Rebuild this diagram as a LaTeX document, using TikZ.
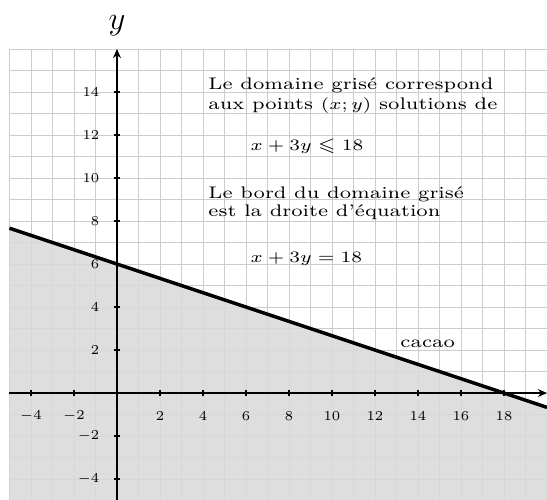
\documentclass[tikz,border=0pt]{standalone}
\usepackage{amsmath,amssymb}
\usetikzlibrary{arrows.meta}

\begin{document}
\begin{tikzpicture}[x=0.333cm,y=0.333cm,
  grille/.style={gray!40, line width=0.4pt},
  axe/.style={thick, -{Stealth[length=4pt,width=3.5pt]}},
  graduation/.style={font=\fontsize{6.4}{7}\selectfont, inner sep=0pt},
  texte/.style={anchor=base west, inner sep=0pt, xscale=1.19,
    font=\fontsize{7.4}{9}\selectfont}]
\useasboundingbox (-5.44,-4.93) rectangle (20,18.28);
% quadrillage
\draw[grille, step=1] (-5,-5) grid (20,16);
% domaine grise
\fill[black!15, opacity=0.88] (-5,-5) -- (-5,23/3) -- (20,-2/3) -- (20,-5) -- cycle;
% axes
\draw[axe] (-5,0) -- (20,0);
\draw[axe] (0,-5) -- (0,16);
\node[font=\Large] (ny) at (0,17.1) {$y$};
% graduations
\foreach \x in {-4,-2,2,4,...,18} {
  \draw[thick] (\x,-0.15) -- (\x,0.15);
  \node[graduation] (gx\x) at (\x,-1.05) {$\x$};
}
\foreach \y in {-4,-2,2,4,...,14} {
  \draw[thick] (-0.15,\y) -- (0.15,\y);
  \node[graduation, anchor=east] (gy\y) at (-0.8,\y) {$\y$};
}
% droite x+3y=18
\draw[line width=1.5pt] (-5,23/3) -- (20,-2/3);
% textes
\node[texte] (l1) at (4.23,14.14) {Le domaine grisé correspond};
\node[texte] (l2) at (4.23,13.21) {aux points $(x;y)$ solutions de};
\node[texte] (ineq) at (6.19,11.26) {$x+3y\leqslant 18$};
\node[texte] (l3) at (4.23,9.07) {Le bord du domaine grisé};
\node[texte] (l4) at (4.23,8.19) {est la droite d'équation};
\node[texte] (eq) at (6.19,6.05) {$x+3y=18$};
\node[texte] (cacao) at (13.16,2.14) {cacao};
\end{tikzpicture}
\end{document}
